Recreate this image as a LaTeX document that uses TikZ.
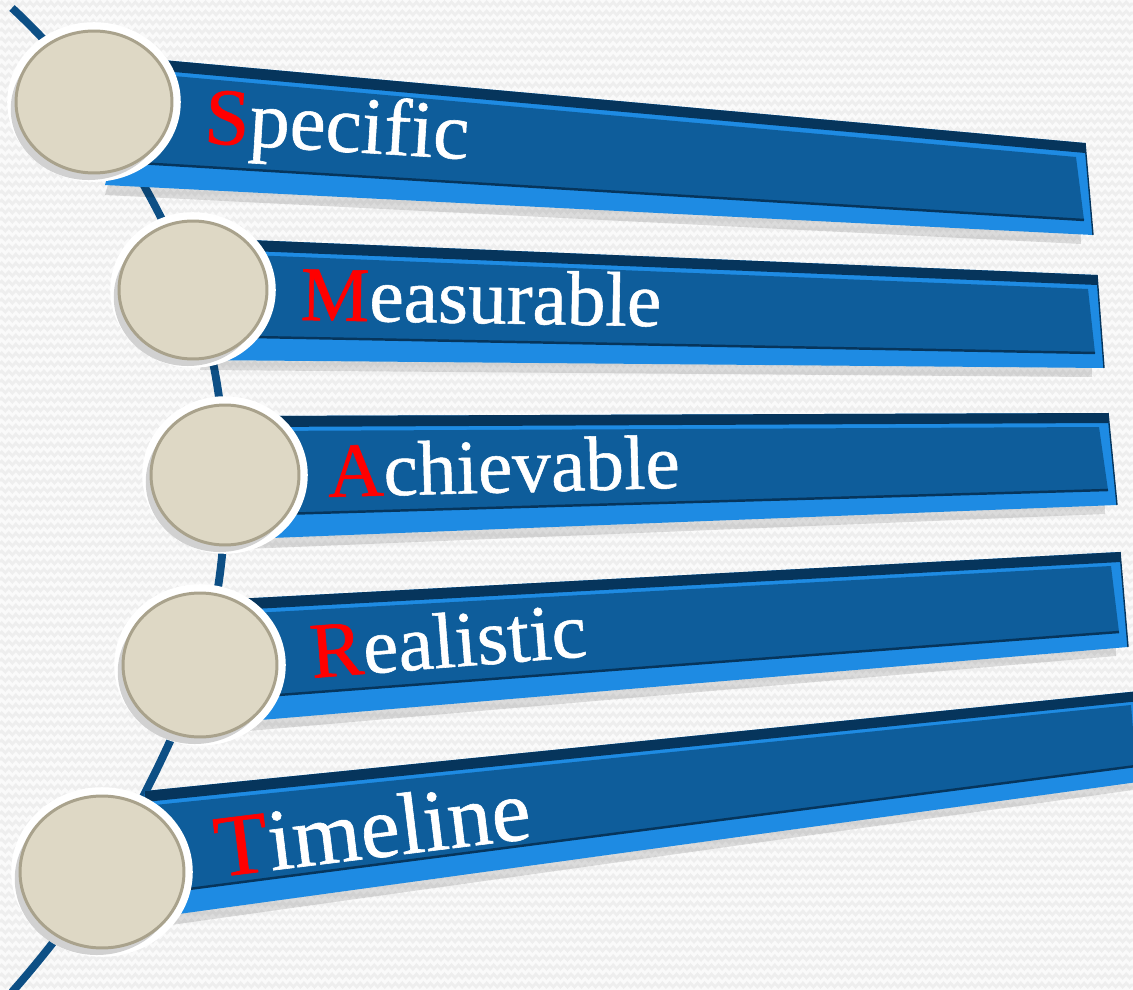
\documentclass[tikz,border=0pt]{standalone}
\usepackage{fontspec}
\setmainfont{Liberation Serif}
\newfontfamily\wordfont{Liberation Serif}[FakeBold=0.7]
\usetikzlibrary{calc, positioning, shapes.geometric, shadows, backgrounds, decorations.pathmorphing}

\definecolor{barlight}{HTML}{1E8BE3}
\definecolor{barface}{HTML}{0E5D9B}
\definecolor{baredge}{HTML}{06355C}
\definecolor{spineblue}{HTML}{0D4F85}
\definecolor{discfill}{HTML}{DED8C5}
\definecolor{discrim}{HTML}{A9A28C}
\definecolor{paper}{HTML}{FAFAFA}
\definecolor{weave}{HTML}{EEEEEE}
\definecolor{capred}{HTML}{FF0000}

\tikzset{
  disc/.style={ellipse, inner sep=0pt, fill=discfill, draw=discrim, line width=1.7pt,
    preaction={draw=white, line width=10pt},
    drop shadow={shadow xshift=-3pt, shadow yshift=-4pt, opacity=.18, fill=black}},
  word/.style={anchor=base west, inner sep=0pt, text=white, font=\wordfont\fontsize{46}{50}\selectfont},
  spine/.style={draw=spineblue, line width=4.5pt},
  weaveline/.style={draw=weave, line width=1.6pt, decorate,
    decoration={zigzag, segment length=4pt, amplitude=1.1pt}},
  barshade/.style={fill=black, opacity=.12},
  barrim/.style={draw=baredge, line width=1.4pt}
}

\begin{document}
\begin{tikzpicture}[x=0.02cm, y=-0.02cm]
  \useasboundingbox (0,0) rectangle (1133,990);

  % corners of the bars: top left, top right, bottom right, bottom left
  \coordinate (s-tl) at (140,58);  \coordinate (s-tr) at (1085,143);
  \coordinate (s-br) at (1093,235); \coordinate (s-bl) at (105,185);
  \coordinate (m-tl) at (225,239);  \coordinate (m-tr) at (1097,275);
  \coordinate (m-br) at (1104,368); \coordinate (m-bl) at (200,360);
  \coordinate (a-tl) at (255,416);  \coordinate (a-tr) at (1108,413);
  \coordinate (a-br) at (1117,505); \coordinate (a-bl) at (245,539);
  \coordinate (r-tl) at (235,599);  \coordinate (r-tr) at (1120,552);
  \coordinate (r-br) at (1128,647); \coordinate (r-bl) at (225,723);
  \coordinate (t-tl) at (145,791);  \coordinate (t-tr) at (1140,691);
  \coordinate (t-br) at (1145,781); \coordinate (t-bl) at (135,920);

  % Bars
  \foreach \b in {s,m,a,r,t}{
    \fill[barshade] ($(\b-tl)+(0,12)$) -- ($(\b-tr)+(-6,12)$) -- ($(\b-br)+(-12,9)$) -- ($(\b-bl)+(0,10)$) -- cycle;
    \fill[barlight] (\b-tl) -- (\b-tr) -- (\b-br) -- (\b-bl) -- cycle;
    \fill[baredge] (\b-tl) -- (\b-tr) -- ($(\b-tr)+(0.5,10)$) -- ($(\b-tl)+(0,11)$) -- cycle;
    \fill[barface] ($(\b-tl)+(0,15)$) -- ($(\b-tr)+(-9,14)$) -- ($(\b-br)+(-9,-15)$) -- ($(\b-bl)+(0,-24)$) -- cycle;
    \draw[barrim] ($(\b-bl)+(0,-24)$) -- ($(\b-br)+(-9,-15)$);
    \draw[barrim, line width=0.8pt] (\b-tr) -- (\b-br);
  }

  % Discs
  \node[disc, minimum width=3.12cm, minimum height=2.84cm] (d1) at (94,102) {};
  \node[disc, minimum width=2.96cm, minimum height=2.76cm] (d2) at (193,290) {};
  \node[disc, minimum width=2.96cm, minimum height=2.80cm] (d3) at (225,475) {};
  \node[disc, minimum width=3.08cm, minimum height=2.88cm] (d4) at (200,665) {};
  \node[disc, minimum width=3.28cm, minimum height=3.04cm] (d5) at (102,872) {};

  % Words
  \node[word, rotate=-3.5] (w-s) at (203,143) {\textcolor{capred}{S}pecific};
  \node[word, rotate=-1, font=\wordfont\fontsize{44}{50}\selectfont] (w-m) at (300,320) {\textcolor{capred}{M}easurable};
  \node[word, rotate=1.5, font=\wordfont\fontsize{44}{50}\selectfont] (w-a) at (328,497) {\textcolor{capred}{A}chievable};
  \node[word, rotate=4.5, font=\wordfont\fontsize{45}{50}\selectfont] (w-r) at (312,678) {\textcolor{capred}{R}ealistic};
  \node[word, rotate=7, font=\wordfont\fontsize{50}{54}\selectfont] (w-t) at (218,877) {\textcolor{capred}{T}imeline};

  % Paper and spine behind everything
  \begin{scope}[on background layer]
    \fill[paper] (0,0) rectangle (1133,990);
    \foreach \yy in {4,13,...,994}
      \draw[weaveline] (0,\yy) -- (1133,\yy);
    \coordinate (top) at (12,8);
    \coordinate (bot) at (12,992);
    \draw[spine] plot[smooth, tension=0.6] coordinates {(top) (d1.center) (d2.center) (d3.center) (d4.center) (d5.center) (bot)};
  \end{scope}
\end{tikzpicture}
\end{document}
